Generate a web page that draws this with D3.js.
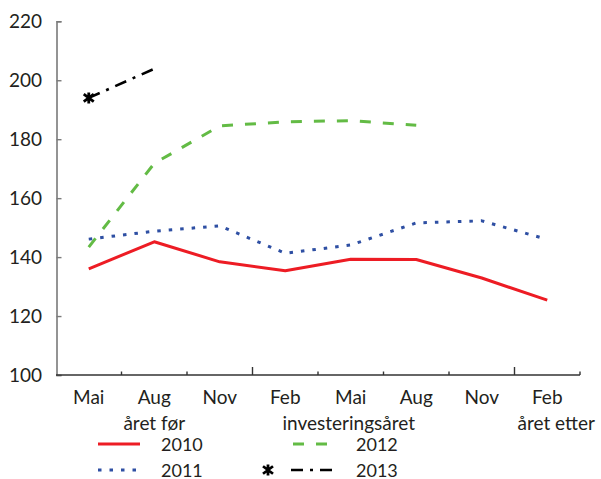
<!DOCTYPE html>
<html><head><meta charset="utf-8">
<script src="https://cdn.jsdelivr.net/npm/d3@7/dist/d3.min.js"></script>
<style>body{margin:0;background:#fff}svg{display:block;font-family:Lato,"Open Sans",sans-serif}</style>
</head><body><svg id="c" width="601" height="479"></svg>
<script>
const months = ["Mai","Aug","Nov","Feb","Mai","Aug","Nov","Feb"];
const periods = ["året før","investeringsåret","året etter"];
const yTicks = [100,120,140,160,180,200,220];
const years = ["2010","2011","2012","2013"];
const s2010 = [136.0,145.2,138.4,135.4,139.3,139.2,132.9,125.4];
const s2011 = [146.1,148.8,150.6,141.3,144.1,151.6,152.3,146.0];
const s2012 = [143.4,171.8,184.5,185.9,186.3,184.7,null,null];
const s2013 = [194.0,203.9,null,null,null,null,null,null];

const series = [
  {name:years[0], values:s2010, color:"#ed1c24", dash:null, width:3},
  {name:years[1], values:s2011, color:"#2e4fa3", dash:"3.5,8", width:3},
  {name:years[2], values:s2012, color:"#63bb45", dash:"11,12", width:3},
  {name:years[3], values:s2013, color:"#000000", dash:"12,7,3,7", width:2.6, marker:true}
];

const svg = d3.select("#c");
const textColor = "#231f20";
const x = d3.scaleBand().domain(d3.range(months.length)).range([56,580]).padding(0);
const xc = i => x(i) + x.bandwidth()/2;
const y = d3.scaleLinear().domain([100,220]).range([375,21.3]);

// y axis
const ya = svg.append("g").attr("transform","translate(56.5,0)")
  .call(d3.axisLeft(y).tickValues(yTicks).tickSize(-5).tickPadding(14.5));
ya.select(".domain").attr("stroke","#7a7a7a").attr("stroke-width",1.6);
ya.selectAll(".tick line").attr("stroke","#7a7a7a").attr("stroke-width",1.4);
ya.selectAll(".tick text").attr("font-size",19).attr("fill",textColor).attr("font-family","Lato");

// x axis
const xa = svg.append("g").attr("transform","translate(0,375)");
xa.append("line").attr("x1",x.range()[0]).attr("x2",x.range()[1]).attr("stroke","#333").attr("stroke-width",1.5);
const bounds = d3.range(months.length+1).map(i => i < months.length ? x(i) : x.range()[1]);
const major = [3,7];
xa.selectAll(".tk").data(bounds.slice(1)).join("line")
  .attr("x1",d=>d).attr("x2",d=>d).attr("y1",0)
  .attr("y2",(d,i)=> major.includes(i+1) ? -8 : -3.5)
  .attr("stroke","#333").attr("stroke-width",1.4);
xa.selectAll(".ml").data(months).join("text")
  .attr("x",(d,i)=>xc(i)).attr("y",29).attr("text-anchor","middle")
  .attr("font-size",19).attr("fill",textColor).text(d=>d);

// period labels
const periodPos = [{i:1,anchor:"middle",dx:0},{i:4,anchor:"middle",dx:-2},{i:7,anchor:"start",dx:3}];
svg.selectAll(".pl").data(periods).join("text")
  .attr("x",(d,k)=> periodPos[k].anchor==="middle" ? xc(periodPos[k].i)+periodPos[k].dx : x(periodPos[k].i)+periodPos[k].dx)
  .attr("y",430).attr("text-anchor",(d,k)=>periodPos[k].anchor)
  .attr("font-size",19).attr("fill",textColor).text(d=>d);

// lines
const line = d3.line().defined(d=>d.v!=null).x(d=>xc(d.i)).y(d=>y(d.v));
const star = (g,cx,cy) => {
  const r = 5;
  g.append("path")
   .attr("d",`M${cx-r},${cy-r*0.75}L${cx+r},${cy+r*0.75}M${cx-r},${cy+r*0.75}L${cx+r},${cy-r*0.75}M${cx},${cy-r*1.1}L${cx},${cy+r*1.1}`)
   .attr("stroke","#000").attr("stroke-width",2.8).attr("fill","none");
};
series.forEach(s=>{
  const pts = s.values.map((v,i)=>({i,v}));
  svg.append("path").datum(pts).attr("d",line).attr("fill","none")
    .attr("stroke",s.color).attr("stroke-width",s.width)
    .attr("stroke-dasharray",s.dash).attr("stroke-linejoin","round");
  if(s.marker){ star(svg, xc(0), y(s.values[0])); }
});

// legend
const leg = [
  {s:series[0], lx:98, ly:444},
  {s:series[1], lx:98, ly:470},
  {s:series[2], lx:293, ly:444},
  {s:series[3], lx:291, ly:470}
];
leg.forEach(L=>{
  const s = L.s;
  const len = s.marker ? 45 : (s.name==="2012" ? 36 : 42);
  svg.append("line").attr("x1",L.lx).attr("x2",L.lx+len).attr("y1",L.ly).attr("y2",L.ly)
    .attr("stroke",s.color).attr("stroke-width",s.width).attr("stroke-dasharray",s.dash);
  if(s.marker) star(svg, 268, L.ly);
  svg.append("text").attr("x", L.lx < 200 ? 161 : 356).attr("y",L.ly+6.5)
    .attr("font-size",18).attr("fill",textColor).text(s.name);
});
</script></body></html>
